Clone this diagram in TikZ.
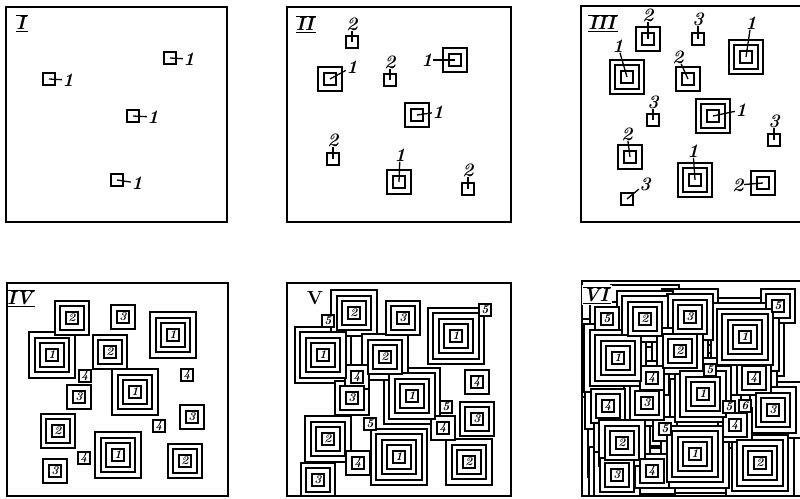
\documentclass[tikz,border=0pt]{standalone}
\tikzset{
  frame/.style={line width=2pt},
  ring/.style={draw, fill=white, line width=2pt},
  nuc/.style={draw, fill=white, line width=2pt, minimum size=12pt, inner sep=0pt},
  num/.style={font=\fontsize{12}{12}\selectfont\bfseries\itshape},
  lab/.style={font=\fontsize{19}{19}\selectfont\bfseries\itshape, inner sep=0.3pt},
  lead/.style={line width=1.3pt},
  pname/.style={font=\fontsize{19}{19}\selectfont, inner sep=0pt}
}
\newcommand\romn[1]{$\overline{\underline{\textbf{\textit{#1}}}}$}
\newcommand\growrings[2]{%
  \foreach \t in {#1,...,1}{%
    \foreach \cx/\cy/\cn in #2{%
      \pgfmathtruncatemacro\jj{\t-\cn}%
      \ifnum\jj<0 \else
        \pgfmathtruncatemacro\hh{6+5.5*\jj+0.5}%
        \draw[ring] (\cx-\hh,\cy-\hh) rectangle (\cx+\hh,\cy+\hh);%
      \fi
    }%
  }%
}
\newcommand\tagged[6]{%
  \node[nuc] (#1) at (#2,#3) {};
  \node[lab] (#1l) at (#4,#5) {#6};
  \draw[lead] (#1.center) -- (#1l);
}
\begin{document}
\begin{tikzpicture}[x=1pt,y=-1pt]
\useasboundingbox (0,0) rectangle (800,498);
\fill[white] (0,0) rectangle (800,498);

% ---------------- Panel I
\draw[frame] (6,7) rectangle (227,222);
\node[pname] (nI) at (22,23) {\romn{I}};
\tagged{Ia}{49}{79}{68}{80}{1}
\tagged{Ib}{170}{58}{189}{59}{1}
\tagged{Ic}{133}{116}{153}{117}{1}
\tagged{Id}{117}{180}{137}{183}{1}

% ---------------- Panel II
\draw[frame] (287,7) rectangle (511,222);
\node[pname] (nII) at (306,24) {\romn{II}};
\def\listII{330/79/1, 455/60/1, 417/115/1, 399/182/1, 352/42/2, 390/80/2, 333/159/2, 468/189/2}
\growrings{2}{\listII}
\tagged{IIa}{330}{79}{352}{67}{1}
\tagged{IIb}{455}{60}{427}{60}{1}
\tagged{IIc}{417}{115}{438}{112}{1}
\tagged{IId}{399}{182}{400}{155}{1}
\tagged{IIe}{352}{42}{352}{24}{2}
\tagged{IIf}{390}{80}{390}{62}{2}
\tagged{IIg}{333}{159}{333}{140}{2}
\tagged{IIh}{468}{189}{468}{170}{2}

% ---------------- Panel III
\draw[frame] (802,6) -- (581,6) -- (581,222) -- (802,222);
\node[pname] (nIII) at (603,23) {\romn{III}};
\def\listIII{627/77/1, 746/57/1, 713/116/1, 695/180/1, 648/39/2, 688/79/2, 630/157/2, 763/183/2, 698/39/3, 653/120/3, 774/140/3, 627/199/3}
\growrings{3}{\listIII}
\tagged{IIIa}{627}{77}{618}{46}{1}
\tagged{IIIb}{746}{57}{751}{23}{1}
\tagged{IIIc}{713}{116}{741}{110}{1}
\tagged{IIId}{695}{180}{693}{151}{1}
\tagged{IIIe}{648}{39}{648}{15}{2}
\tagged{IIIf}{688}{79}{678}{57}{2}
\tagged{IIIg}{630}{157}{627}{134}{2}
\tagged{IIIh}{763}{183}{738}{185}{2}
\tagged{IIIi}{698}{39}{698}{19}{3}
\tagged{IIIj}{653}{120}{653}{102}{3}
\tagged{IIIk}{774}{140}{774}{121}{3}
\tagged{IIIl}{627}{199}{645}{184}{3}

% ---------------- Panel IV
\begin{scope}
\clip (7,283) rectangle (228,496);
\def\listIV{52/355/1, 173/335/1, 135/392/1, 118/455/1, 72/318/2, 110/352/2, 58/431/2, 185/461/2, 123/317/3, 79/397/3, 192/417/3, 55/471/3, 85/376/4, 187/375/4, 159/426/4, 84/458/4}
\growrings{4}{\listIV}
\foreach \cx/\cy/\cn [count=\k] in \listIV { \node[nuc,num] (IV\k) at (\cx,\cy) {\cn}; }
\end{scope}
\draw[frame] (7,283) rectangle (228,496);
\node[pname] (nIV) at (21,298) {\romn{IV}};

% ---------------- Panel V
\begin{scope}
\clip (287,283) rectangle (511,496);
\def\listV{323/355/1, 456/336/1, 412/396/1, 399/457/1, 354/313/2, 385/357/2, 328/439/2, 469/462/2, 403/318/3, 352/398/3, 477/419/3, 318/480/3, 357/377/4, 477/382/4, 443/428/4, 358/463/4, 328/321/5, 485/310/5, 446/407/5, 370/424/5}
\growrings{5}{\listV}
\foreach \cx/\cy/\cn [count=\k] in \listV { \node[nuc,num] (V\k) at (\cx,\cy) {\cn}; }
\end{scope}
\draw[frame] (287,283) rectangle (511,496);
\node[pname, fill=white, inner sep=1pt] (nV) at (315,298) {\textbf{V}};

% ---------------- Panel VI
\begin{scope}
\clip (582,281) rectangle (800,496);
\def\listVI{618/358/1, 745/337/1, 703/394/1, 695/454/1, 645/319/2, 680/351/2, 622/443/2, 760/463/2, 690/317/3, 647/403/3, 773/410/3, 617/475/3, 652/378/4, 754/378/4, 735/425/4, 652/471/4, 608/406/4, 607/319/5, 778/306/5, 710/370/5, 729/407/5, 665/429/5, 745/406/6}
\growrings{7}{\listVI}
\foreach \cx/\cy/\cn [count=\k] in \listVI { \node[nuc,num] (VI\k) at (\cx,\cy) {\cn}; }
\end{scope}
\draw[frame] (802,281) -- (582,281) -- (582,496) -- (802,496);
\node[pname, fill=white, inner sep=1pt] (nVI) at (597,295) {\romn{VI}};
\end{tikzpicture}
\end{document}
